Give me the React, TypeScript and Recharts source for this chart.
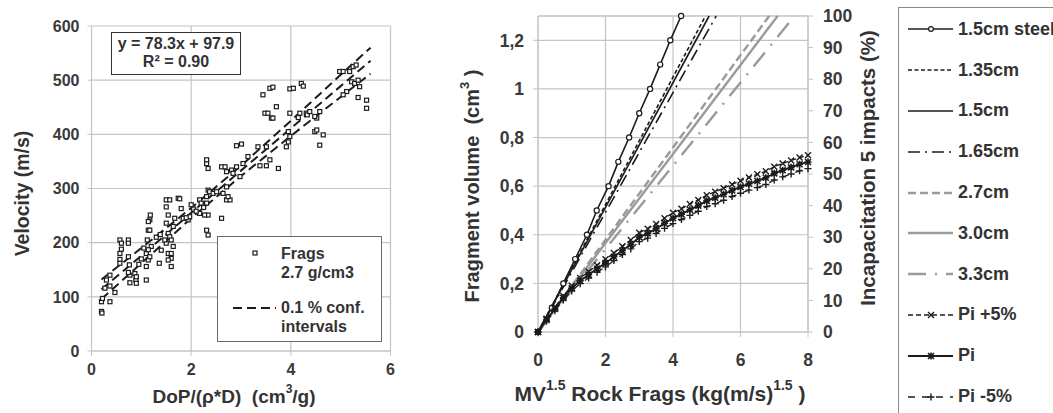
import React from "react";
import {
  ComposedChart,
  Scatter,
  Line,
  XAxis,
  YAxis,
  CartesianGrid,
  Legend,
  Label,
  ReferenceLine,
} from "recharts";

const FONT = "'Liberation Sans', Arial, sans-serif";
const TXT = "#3a3a3a";
const GRID = "#c4c4c4";
const DARK = "#1c1c1c";
const GREY = "#9a9a9a";

// ---- left panel: fragment velocity vs DoP/(rho*D)
const fragDoP = [
  0.2, 0.21, 0.2, 0.22, 0.37, 0.47, 0.37, 0.37, 0.3, 0.27, 0.57, 0.57, 0.6, 0.57, 0.6, 0.57,
  0.74, 0.74, 0.74, 0.76, 0.77, 0.77, 0.74, 0.87, 0.89, 0.9, 0.9, 1.1, 1.14, 1.17, 1.18, 1.14,
  1.17, 1.1, 1.14, 1.1, 1.17, 1.2, 1.14, 1.12, 1.36, 1.5, 1.5, 1.54, 1.5, 1.54, 1.5, 1.54,
  1.6, 1.6, 1.57, 1.6, 1.64, 1.57, 1.47, 1.64, 1.6, 1.54, 1.74, 1.77, 1.8, 1.67, 1.84, 1.94,
  1.97, 2.0, 2.17, 2.2, 2.31, 2.34, 2.31, 2.34, 2.31, 2.37, 2.44, 2.31, 2.34, 2.31, 2.34, 2.17,
  2.27, 2.61, 2.51, 2.64, 2.71, 2.78, 2.71, 2.74, 2.61, 2.68, 2.71, 2.81, 2.84, 2.91, 2.91, 3.01,
  2.98, 3.04, 3.14, 3.38, 3.51, 3.34, 3.51, 3.48, 3.54, 3.61, 3.71, 3.58, 3.75, 3.44, 3.58, 3.64,
  3.64, 3.91, 3.95, 3.95, 3.98, 3.98, 4.05, 3.98, 4.21, 4.25, 4.18, 4.31, 4.33, 4.15, 4.38, 4.48,
  4.52, 4.52, 4.58, 4.58, 4.65, 4.48, 4.98, 5.05, 5.25, 5.22, 5.28, 5.35, 5.38, 5.35, 5.52, 5.52,
  5.18, 5.31, 5.12, 5.05, 1.9, 2.05, 2.1, 2.25, 1.0, 1.05, 0.95, 1.3, 1.38, 1.4,
];
const fragVel = [
  73, 70, 91, 97, 91, 108, 120, 140, 131, 116, 169, 180, 188, 205, 199, 162,
  205, 199, 174, 159, 140, 126, 145, 143, 131, 125, 137, 131, 223, 242, 251, 239,
  223, 180, 168, 156, 174, 193, 187, 205, 162, 279, 266, 251, 236, 217, 199, 180,
  171, 156, 211, 205, 193, 279, 205, 230, 180, 168, 282, 281, 263, 245, 245, 242,
  248, 270, 279, 273, 346, 337, 353, 297, 285, 294, 291, 273, 251, 223, 214, 254,
  251, 245, 294, 291, 279, 279, 303, 285, 340, 340, 331, 334, 328, 340, 379, 382,
  322, 346, 359, 342, 342, 377, 377, 439, 439, 430, 451, 353, 337, 473, 485, 487,
  430, 377, 386, 405, 439, 484, 485, 396, 494, 489, 439, 439, 436, 431, 442, 405,
  408, 430, 442, 380, 399, 433, 516, 516, 525, 497, 494, 500, 488, 468, 463, 448,
  516, 528, 479, 473, 246, 262, 258, 265, 170, 190, 160, 210, 215, 186,
];

// 0.1 % confidence band around y = 78.3x + 97.9
const ciX = [0.2, 1, 2, 3, 4, 5, 5.6];
const ciUpper = [132, 190, 264, 342, 425, 510, 560];
const ciFit = [114, 176, 255, 333, 411, 489, 536];
const ciLower = [96, 162, 245, 323, 397, 469, 512];

const velTicks = [0, 100, 200, 300, 400, 500, 600];
const dopTicks = [0, 2, 4, 6];

// ---- right panel: fragment volume vs MV^1.5
const steelX = [0, 0.41, 0.75, 1.1, 1.45, 1.74, 2.09, 2.38, 2.7, 3.0, 3.32, 3.62, 3.92, 4.24];
const steelVol = [0, 0.1, 0.2, 0.3, 0.4, 0.5, 0.6, 0.7, 0.8, 0.9, 1.0, 1.1, 1.2, 1.3];

// the straight calibre lines reach the top (1.3 cm3) at these MV^1.5 values
const calibres = ["1.35cm", "1.5cm", "1.65cm", "2.7cm", "3.0cm", "3.3cm"];
const calibreTopX = [4.96, 5.07, 5.28, 6.85, 7.1, 7.6];
const volTop = 1.3;

const piX = [
  0, 0.25, 0.5, 0.75, 1, 1.25, 1.5, 1.75, 2, 2.25, 2.5, 2.75, 3, 3.25, 3.5, 3.75, 4,
  4.25, 4.5, 4.75, 5, 5.25, 5.5, 5.75, 6, 6.25, 6.5, 6.75, 7, 7.25, 7.5, 7.75, 8,
];
const piPlus = [
  0, 4.2, 7.9, 11.5, 14.6, 17.1, 19.1, 21.1, 23.0, 25.0, 27.1, 29.1, 31.4, 32.7, 34.2, 36.0, 37.7,
  39.0, 40.5, 41.8, 43.3, 44.4, 45.5, 46.7, 47.9, 48.9, 49.9, 50.9, 52.3, 53.3, 54.3, 55.2, 55.9,
];
const piMid = [
  0, 3.8, 7.3, 10.8, 13.8, 16.2, 18.1, 20.0, 21.8, 23.8, 25.8, 27.7, 30.0, 31.2, 32.7, 34.4, 36.0,
  37.3, 38.7, 40.0, 41.5, 42.5, 43.6, 44.8, 45.9, 46.9, 47.8, 48.8, 50.2, 51.2, 52.1, 53.1, 53.8,
];
const piMinus = [
  0, 3.4, 6.7, 10.1, 13.0, 15.3, 17.1, 18.9, 20.6, 22.6, 24.5, 26.3, 28.6, 29.7, 31.2, 32.8, 34.3,
  35.6, 36.9, 38.2, 39.7, 40.6, 41.7, 42.9, 43.9, 44.9, 45.7, 46.7, 48.1, 49.1, 50.0, 51.0, 51.7,
];

const volTicks = [0, 0.2, 0.4, 0.6, 0.8, 1, 1.2];
const mvTicks = [0, 2, 4, 6, 8];
const pctTicks = [0, 10, 20, 30, 40, 50, 60, 70, 80, 90, 100];

const zip = (xs: number[], ys: number[]) => xs.map((x, i) => ({ x, y: ys[i] }));

const fragPts = zip(fragDoP, fragVel);
const steelPts = zip(steelX, steelVol);
const calibrePts = calibreTopX.map((top) => zip([0, top], [0, volTop]));

// marker shapes
const squareShape = (p: any) => (
  <rect x={p.cx - 2} y={p.cy - 2} width={4} height={4} fill="#fff" stroke={DARK} strokeWidth={1.2} />
);
const circleDot = (p: any) => (
  <circle key={"c" + p.index} cx={p.cx} cy={p.cy} r={2.6} fill="#fff" stroke={DARK} strokeWidth={1.2} />
);
const xPath = (cx: number, cy: number, s: number) =>
  `M${cx - s},${cy - s}L${cx + s},${cy + s}M${cx - s},${cy + s}L${cx + s},${cy - s}`;
const plusPath = (cx: number, cy: number, s: number) =>
  `M${cx - s},${cy}L${cx + s},${cy}M${cx},${cy - s}L${cx},${cy + s}`;
const crossDot = (p: any) => (
  <path key={"x" + p.index} d={xPath(p.cx, p.cy, 3)} stroke={DARK} strokeWidth={1.4} />
);
const starDot = (p: any) => (
  <path
    key={"s" + p.index}
    d={xPath(p.cx, p.cy, 3) + plusPath(p.cx, p.cy, 3.5)}
    stroke={DARK}
    strokeWidth={1.6}
  />
);
const plusDot = (p: any) => (
  <path key={"p" + p.index} d={plusPath(p.cx, p.cy, 3.5)} stroke={DARK} strokeWidth={1.4} />
);

const calibreStyle = [
  { stroke: DARK, dash: "4 2.5", width: 1.6 },
  { stroke: DARK, dash: undefined, width: 1.6 },
  { stroke: DARK, dash: "12 5 2 5", width: 1.6 },
  { stroke: GREY, dash: "8 4", width: 2.4 },
  { stroke: GREY, dash: undefined, width: 2.4 },
  { stroke: GREY, dash: "18 9 2 9", width: 2.4 },
];

const tickStyle = { fill: TXT, fontSize: 16, fontWeight: 700, fontFamily: FONT };
const titleStyle = { fill: "#333", fontSize: 19.5, fontWeight: 700, fontFamily: FONT };

const comma = (v: number) => String(v).replace(".", ",");

const sampleLine = (stroke: string, dash: string | undefined, width: number, marker?: string) => (
  <svg width={46} height={16} style={{ display: "block" }}>
    <line x1={0} y1={8} x2={45} y2={8} stroke={stroke} strokeWidth={width} strokeDasharray={dash} />
    {marker === "circle" && <circle cx={23} cy={8} r={2.4} fill="#fff" stroke={DARK} strokeWidth={1.2} />}
    {marker === "x" && <path d={xPath(23, 8, 3)} stroke={DARK} strokeWidth={1.4} />}
    {marker === "star" && <path d={xPath(23, 8, 3) + plusPath(23, 8, 3.5)} stroke={DARK} strokeWidth={1.6} />}
    {marker === "plus" && <path d={plusPath(23, 8, 3.5)} stroke={DARK} strokeWidth={1.4} />}
  </svg>
);

const rightLegendItems = [
  { name: "1.5cm steel", el: sampleLine(DARK, undefined, 1.6, "circle") },
  ...calibres.map((c, i) => ({
    name: c,
    el: sampleLine(calibreStyle[i].stroke, calibreStyle[i].dash, calibreStyle[i].width),
  })),
  { name: "Pi +5%", el: sampleLine(DARK, "5 3", 1.4, "x") },
  { name: "Pi", el: sampleLine(DARK, undefined, 1.8, "star") },
  { name: "Pi -5%", el: sampleLine(DARK, "7 7", 1.4, "plus") },
];

const RightLegend = () => (
  <div
    style={{
      border: "1px solid #8a8a8a",
      background: "#fff",
      width: 200,
      height: 430,
      boxSizing: "border-box",
      paddingTop: 1,
      paddingLeft: 9,
      fontFamily: FONT,
      fontWeight: 700,
      fontSize: 18,
      color: "#333",
    }}
  >
    {rightLegendItems.map((it) => (
      <div key={it.name} style={{ display: "flex", alignItems: "center", height: 40.8, whiteSpace: "nowrap" }}>
        {it.el}
        <span style={{ marginLeft: 4 }}>{it.name}</span>
      </div>
    ))}
  </div>
);

const LeftLegend = () => (
  <div
    style={{
      border: "1px solid #6a6a6a",
      background: "#fff",
      width: 165,
      height: 106,
      boxSizing: "border-box",
      fontFamily: FONT,
      fontWeight: 700,
      fontSize: 16,
      color: "#333",
      position: "relative",
      lineHeight: "19px",
    }}
  >
    <svg width={60} height={100} style={{ position: "absolute", left: 12, top: 0 }}>
      <rect x={23} y={14} width={4} height={4} fill="#fff" stroke={DARK} strokeWidth={1.2} />
      <line x1={3} y1={71} x2={46} y2={71} stroke={DARK} strokeWidth={2} strokeDasharray="9 5" />
    </svg>
    <div style={{ position: "absolute", left: 63, top: 7 }}>
      Frags
      <br />
      2.7 g/cm3
    </div>
    <div style={{ position: "absolute", left: 63, top: 61 }}>
      0.1 % conf.
      <br />
      intervals
    </div>
  </div>
);

const textLabel = (
  text: React.ReactNode,
  place: (vb: any) => { x: number; y: number; angle: number },
  size?: number
) => (props: any) => {
  const vb = props.viewBox || { x: 0, y: 0, width: 0, height: 0 };
  const { x, y, angle } = place(vb);
  return (
    <text
      x={x}
      y={y}
      textAnchor="middle"
      dominantBaseline="central"
      transform={angle ? `rotate(${angle} ${x} ${y})` : undefined}
      {...titleStyle}
      fontSize={size || titleStyle.fontSize}
    >
      {text}
    </text>
  );
};

const sup = (s: string) => (
  <tspan fontSize={14} dy={-8}>
    {s}
  </tspan>
);

export default function App() {
  return (
    <div
      style={{
        position: "absolute",
        left: 0,
        top: 0,
        width: 1053,
        height: 413,
        overflow: "hidden",
        background: "#fff",
      }}
    >
      <div style={{ position: "absolute", left: 0, top: 0 }}>
        <ComposedChart width={400} height={413} margin={{ top: 26, right: 9.5, bottom: 32, left: 0 }}>
          <CartesianGrid stroke={GRID} strokeWidth={1.2} />
          <XAxis
            type="number"
            dataKey="x"
            domain={[0, 6]}
            ticks={dopTicks}
            height={30}
            tick={tickStyle}
            tickSize={5}
            tickMargin={8}
            axisLine={{ stroke: GRID }}
            tickLine={{ stroke: GRID }}
          >
            <Label
              content={textLabel(
                <>
                  DoP/(ρ*D)&#160;&#160;(cm<tspan fontSize={12} dy={-7}>3</tspan>
                  <tspan dy={7}>/g)</tspan>
                </>,
                (vb) => ({ x: vb.x + vb.width / 2 - 7, y: vb.y + 45, angle: 0 }),
                19
              )}
            />
          </XAxis>
          <YAxis
            type="number"
            domain={[0, 600]}
            ticks={velTicks}
            width={91.5}
            tick={tickStyle}
            tickSize={4}
            tickMargin={8}
            axisLine={{ stroke: GRID }}
            tickLine={{ stroke: GRID }}
          >
            <Label
              content={textLabel("Velocity (m/s)", (vb) => ({
                x: vb.x + 22,
                y: vb.y + vb.height / 2 + 5,
                angle: -90,
              }))}
            />
          </YAxis>
          <Scatter data={fragPts} dataKey="y" shape={squareShape} isAnimationActive={false} />
          <Line data={zip(ciX, ciUpper)} dataKey="y" stroke={DARK} strokeWidth={2} strokeDasharray="9 5" dot={false} isAnimationActive={false} />
          <Line data={zip(ciX, ciFit)} dataKey="y" stroke={DARK} strokeWidth={2} strokeDasharray="9 5" dot={false} isAnimationActive={false} />
          <Line data={zip(ciX, ciLower)} dataKey="y" stroke={DARK} strokeWidth={2} strokeDasharray="9 5" dot={false} isAnimationActive={false} />
          <Legend
            layout="vertical"
            align="center"
            verticalAlign="middle"
            content={() => <LeftLegend />}
            wrapperStyle={{ position: "absolute", left: 217, top: 236, width: 165, height: 106 }}
          />
        </ComposedChart>
        <div
          style={{
            position: "absolute",
            left: 111,
            top: 32,
            width: 130,
            height: 43,
            boxSizing: "border-box",
            border: "1.5px solid #333",
            background: "#fff",
            textAlign: "center",
            fontFamily: FONT,
            fontWeight: 700,
            fontSize: 16,
            lineHeight: "18px",
            color: "#333",
            paddingTop: 2,
          }}
        >
          y = 78.3x + 97.9
          <br />
          R² = 0.90
        </div>
      </div>

      <div style={{ position: "absolute", left: 400, top: 0 }}>
        <ComposedChart width={653} height={413} margin={{ top: 16, right: 173, bottom: 41, left: 0 }}>
          <CartesianGrid stroke={GRID} strokeWidth={1.2} yAxisId="vol" />
          <ReferenceLine y={volTop} yAxisId="vol" stroke={GRID} strokeWidth={1.2} />
          <XAxis
            type="number"
            dataKey="x"
            domain={[0, 8]}
            ticks={mvTicks}
            height={40}
            tick={{ ...tickStyle, fontSize: 17.5 }}
            tickSize={5}
            tickMargin={17}
            axisLine={{ stroke: GRID }}
            tickLine={{ stroke: GRID }}
          >
            <Label
              content={textLabel(
                <>
                  MV{sup("1.5")}
                  <tspan dy={8}> Rock Frags (kg(m/s)</tspan>
                  {sup("1.5")}
                  <tspan dy={8}> )</tspan>
                </>,
                (vb) => ({ x: vb.x + vb.width / 2 - 13, y: vb.y + 61, angle: 0 }),
                21
              )}
            />
          </XAxis>
          <YAxis
            yAxisId="vol"
            type="number"
            domain={[0, volTop]}
            ticks={volTicks}
            tickFormatter={comma}
            width={138}
            tick={{ ...tickStyle, fontSize: 17.5 }}
            tickSize={5}
            tickMargin={9}
            axisLine={{ stroke: GRID }}
            tickLine={{ stroke: GRID }}
          >
            <Label
              content={textLabel(
                <>
                  Fragment volume&#160;&#160;(cm<tspan fontSize={13} dy={-8}>3</tspan>
                  <tspan dy={8}>&#160;)</tspan>
                </>,
                (vb) => ({ x: vb.x + 72, y: vb.y + vb.height / 2 + 12, angle: -90 }),
                20
              )}
            />
          </YAxis>
          <YAxis
            yAxisId="pct"
            orientation="right"
            type="number"
            domain={[0, 100]}
            ticks={pctTicks}
            width={72}
            tick={{ ...tickStyle, fontSize: 17.5, textAnchor: "start" }}
            tickSize={5}
            tickMargin={10}
            axisLine={{ stroke: GRID }}
            tickLine={{ stroke: GRID }}
          >
            <Label
              content={textLabel(
                "Incapacitation 5 impacts (%)",
                (vb) => ({
                  x: vb.x + 59,
                  y: vb.y + vb.height / 2 - 6,
                  angle: -90,
                }),
                20.5
              )}
            />
          </YAxis>

          {calibrePts.map((pts, i) => (
            <Line
              key={calibres[i]}
              yAxisId="vol"
              data={pts}
              dataKey="y"
              stroke={calibreStyle[i].stroke}
              strokeWidth={calibreStyle[i].width}
              strokeDasharray={calibreStyle[i].dash}
              dot={false}
              isAnimationActive={false}
            />
          ))}
          <Line yAxisId="vol" data={steelPts} dataKey="y" stroke={DARK} strokeWidth={1.6} dot={circleDot} isAnimationActive={false} />
          <Line yAxisId="pct" data={zip(piX, piPlus)} dataKey="y" stroke={DARK} strokeWidth={1.3} strokeDasharray="5 3" dot={crossDot} isAnimationActive={false} />
          <Line yAxisId="pct" data={zip(piX, piMid)} dataKey="y" stroke={DARK} strokeWidth={1.8} dot={starDot} isAnimationActive={false} />
          <Line yAxisId="pct" data={zip(piX, piMinus)} dataKey="y" stroke={DARK} strokeWidth={1.3} strokeDasharray="7 7" dot={plusDot} isAnimationActive={false} />
          <Legend
            layout="vertical"
            align="center"
            verticalAlign="middle"
            content={() => <RightLegend />}
            wrapperStyle={{ position: "absolute", left: 498, top: 7, width: 200, height: 430 }}
          />
        </ComposedChart>
      </div>
    </div>
  );
}
